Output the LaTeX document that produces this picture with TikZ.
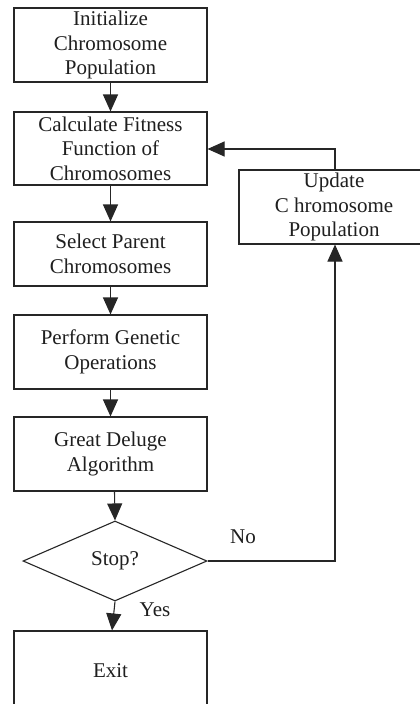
\documentclass[tikz,border=0pt]{standalone}
\usepackage{fontspec}
\setmainfont{Liberation Serif}
\usetikzlibrary{shapes.geometric,arrows.meta}
\begin{document}
\begin{tikzpicture}[x=1pt,y=-1pt,
  every node/.style={font=\fontsize{21}{24.5}\selectfont, text=black!88},
  box/.style={draw=black!85, line width=1.1pt, minimum width=193pt, minimum height=74pt, inner sep=0pt, align=center},
  ubox/.style={draw=black!85, line width=1.1pt, minimum width=190pt, minimum height=74pt, inner sep=0pt, align=center},
  dec/.style={draw=black!85, line width=1.1pt, diamond, aspect=2.3, minimum width=184pt, minimum height=80pt, inner sep=0pt},
  conn/.style={draw=black!85, line width=1.1pt},
  arr/.style={conn, -{Triangle[width=15pt,length=17pt]}},
  lbl/.style={inner sep=0pt}
]
\useasboundingbox (0,0) rectangle (420,704);
\clip (0,0) rectangle (420,704);
\fill[white] (0,0) rectangle (420,704);

\node[box] (init) at (110.5,45) {Initialize\\Chromosome\\Population};
\node[box, minimum height=73pt] (fit) at (110.5,148.5) {Calculate Fitness\\Function of\\Chromosomes};
\node[box, minimum height=64pt] (sel) at (110.5,254) {Select Parent\\Chromosomes};
\node[box] (perf) at (110.5,352) {Perform Genetic\\Operations};
\node[box] (gda) at (110.5,454) {Great Deluge\\Algorithm};
\node[dec] (stop) at (115,561) {Stop?};
\node[box, minimum height=80pt] (exit) at (110.5,671) {Exit};
\node[ubox] (upd) at (334,207) {Update\\C hromosome\\Population};

\node[lbl] (no) at (243,537) {No};
\node[lbl] (yes) at (155,610) {Yes};

\draw[arr] (init.south) -- (fit.north);
\draw[arr] (fit.south) -- (sel.north);
\draw[arr] (sel.south) -- (perf.north);
\draw[arr] (perf.south) -- (gda.north);
\draw[arr] ([xshift=4pt]gda.south) -- (stop.north);
\draw[arr] (stop.south) -- ([xshift=1.5pt]exit.north);

\coordinate (c1) at (335,561);
\draw[arr] (stop.east) -- (c1) -- (c1 |- upd.south);
\coordinate (c2) at (335,149);
\draw[arr] (c2 |- upd.north) -- (c2) -- (fit.east |- c2);
\end{tikzpicture}
\end{document}
